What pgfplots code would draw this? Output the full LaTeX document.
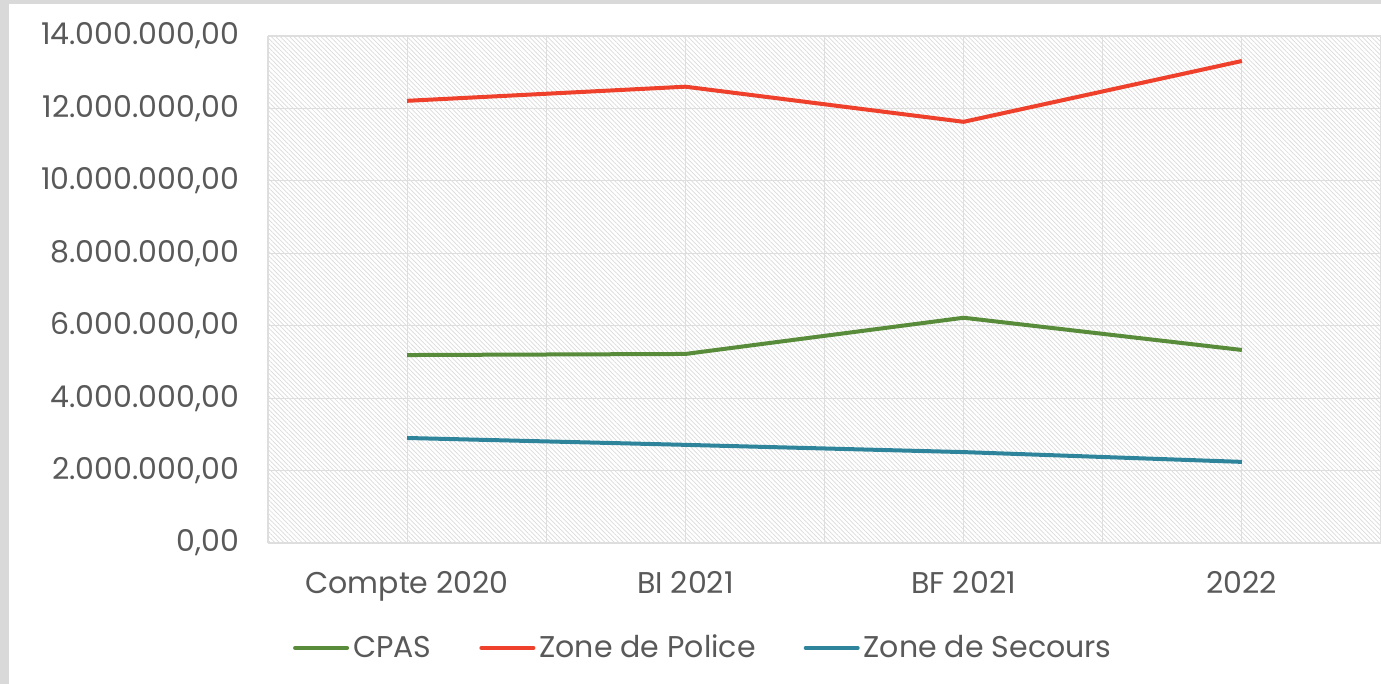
\documentclass[border=0pt]{standalone}
\usepackage{fontspec}
\setmainfont{Poppins}
\usepackage{pgfplots}
\pgfplotsset{compat=1.18}
\usetikzlibrary{patterns.meta}

\definecolor{cpas}{RGB}{88,140,58}
\definecolor{police}{RGB}{238,64,42}
\definecolor{secours}{RGB}{46,133,155}
\definecolor{txt}{RGB}{89,89,89}
\definecolor{gridc}{RGB}{222,222,222}
\definecolor{frame}{RGB}{217,217,217}

\begin{document}
\begin{tikzpicture}
  % outer frame (1px = 0.5pt)
  \fill[frame] (-134pt,-70.5pt) rectangle (556.5pt,271.5pt);
  \fill[white] (-129.5pt,-70.5pt) rectangle (556.5pt,269.5pt);

  \begin{axis}[
    at={(0pt,0pt)}, anchor=south west,
    scale only axis,
    width=556.5pt, height=253.5pt,
    xmin=-0.5, xmax=3.5,
    ymin=0, ymax=14000000,
    xtick={0,1,2,3},
    xticklabels={Compte 2020, BI 2021, BF 2021, 2022},
    minor xtick={-0.5,0.5,1.5,2.5,3.5},
    ytick={0,2000000,4000000,6000000,8000000,10000000,12000000,14000000},
    scaled y ticks=false,
    /pgf/number format/fixed,
    /pgf/number format/fixed zerofill,
    /pgf/number format/precision=2,
    /pgf/number format/1000 sep={.},
    /pgf/number format/use comma,
    /pgf/number format/assume math mode=true,
    grid=both,
    major grid style={draw=gridc, line width=0.6pt},
    minor grid style={draw=gridc, line width=0.6pt},
    axis line style={draw=none},
    tick style={draw=none},
    axis background/.style={
      pattern={Lines[angle=-45, distance=1.6pt, line width=0.35pt]},
      pattern color=gray!28},
    tick label style={font=\fontsize{15}{18}\selectfont, text=txt},
    yticklabel style={xshift=-11pt},
    xticklabel style={yshift=-10.5pt},
    legend style={
      at={(0.392,-0.207)}, anchor=center,
      draw=none, fill=none,
      legend columns=3,
      font=\fontsize{15}{18}\selectfont, text=txt,
      /tikz/every even column/.append style={column sep=22pt}},
    legend image code/.code={
      \draw[#1, line width=2pt, line cap=round] (0pt,0pt) -- (26pt,0pt);},
    every axis plot/.append style={line width=2pt, line join=round},
  ]
    \addplot[cpas] coordinates {
      (0,5190000) (1,5220000) (2,6220000) (3,5330000)
    };
    \addlegendentry{CPAS}
    \addplot[police] coordinates {
      (0,12210000) (1,12600000) (2,11630000) (3,13310000)
    };
    \addlegendentry{Zone de Police}
    \addplot[secours] coordinates {
      (0,2900000) (1,2710000) (2,2510000) (3,2240000)
    };
    \addlegendentry{Zone de Secours}
  \end{axis}
  \pgfresetboundingbox
  \useasboundingbox (-134pt,-70.5pt) rectangle (556.5pt,271.5pt);
\end{tikzpicture}
\end{document}
